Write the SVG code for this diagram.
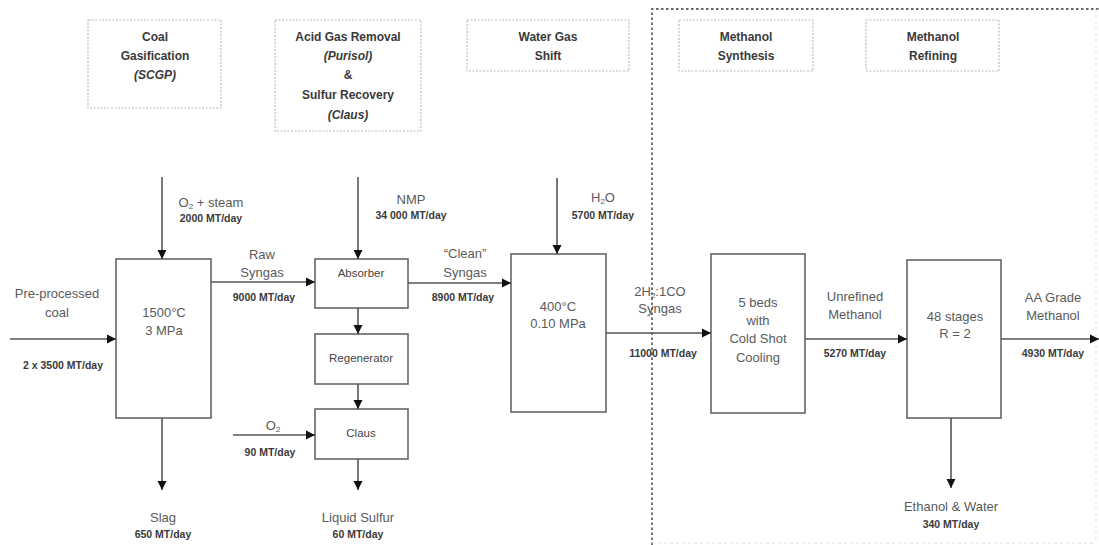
<svg xmlns="http://www.w3.org/2000/svg" width="1099" height="545" viewBox="0 0 1099 545">
<style>
.hdr{fill:#fff;stroke:#bbb;stroke-width:1.2;stroke-dasharray:2 1.5}
.ht{font-family:"Liberation Sans",Arial,sans-serif;font-size:12px;font-weight:bold;fill:#3a3a3a;text-anchor:middle}
.hi{font-style:italic}
.box{fill:#fff;stroke:#666;stroke-width:1.6}
.t{font-family:"Liberation Sans",Arial,sans-serif;font-size:13px;fill:#5a5a5a;text-anchor:middle}
.ts{font-family:"Liberation Sans",Arial,sans-serif;font-size:11.5px;fill:#444;text-anchor:middle}
.f{font-family:"Liberation Sans",Arial,sans-serif;font-size:10.5px;font-weight:bold;fill:#3a3a3a;text-anchor:middle}
.c{stroke:#555;stroke-width:1.6;fill:none;marker-end:url(#ah)}
.dash{fill:none;stroke:#666;stroke-width:1.8;stroke-dasharray:2.5 2.5}
</style>
<defs>
<marker id="ah" markerUnits="userSpaceOnUse" markerWidth="10" markerHeight="10" refX="9" refY="5" orient="auto">
<path d="M0,0.5 L9,5 L0,9.5 Z" fill="#111"/>
</marker>
</defs>
<rect width="1099" height="545" fill="#fff"/>

<g id="region">
<path class="dash" d="M652,545 L652,9 L1099,9"/>
<path d="M1096,9 L1096,543 M652,543 L1096,543" fill="none" stroke="#ddd" stroke-width="1" stroke-dasharray="3 3"/>
</g>

<g id="hdr-gasification">
<rect class="hdr" x="88" y="20" width="133" height="88"/>
<text class="ht" x="155" y="41">Coal</text>
<text class="ht" x="155" y="60">Gasification</text>
<text class="ht hi" x="155" y="79">(SCGP)</text>
</g>
<g id="hdr-agr">
<rect class="hdr" x="275" y="20" width="146" height="111"/>
<text class="ht" x="348" y="41">Acid Gas Removal</text>
<text class="ht hi" x="348" y="60">(Purisol)</text>
<text class="ht" x="348" y="79">&amp;</text>
<text class="ht" x="348" y="99">Sulfur Recovery</text>
<text class="ht hi" x="348" y="119">(Claus)</text>
</g>
<g id="hdr-wgs">
<rect class="hdr" x="467" y="20" width="162" height="51"/>
<text class="ht" x="548" y="41">Water Gas</text>
<text class="ht" x="548" y="60">Shift</text>
</g>
<g id="hdr-synthesis">
<rect class="hdr" x="679" y="20" width="134" height="51"/>
<text class="ht" x="746" y="41">Methanol</text>
<text class="ht" x="746" y="60">Synthesis</text>
</g>
<g id="hdr-refining">
<rect class="hdr" x="866" y="20" width="133" height="51"/>
<text class="ht" x="933" y="41">Methanol</text>
<text class="ht" x="933" y="60">Refining</text>
</g>

<g id="gasifier">
<rect class="box" x="116" y="259" width="95" height="159"/>
<text class="t" x="164" y="317">1500°C</text>
<text class="t" x="164" y="335">3 MPa</text>
</g>
<g id="absorber">
<rect class="box" x="315" y="259" width="93" height="49"/>
<text class="ts" x="361" y="277">Absorber</text>
</g>
<g id="regenerator">
<rect class="box" x="315" y="334" width="93" height="50"/>
<text class="ts" x="361" y="362">Regenerator</text>
</g>
<g id="claus">
<rect class="box" x="315" y="409" width="93" height="50"/>
<text class="ts" x="361" y="437">Claus</text>
</g>
<g id="wgs">
<rect class="box" x="511" y="254" width="95" height="158"/>
<text class="t" x="558" y="311">400°C</text>
<text class="t" x="558" y="328">0.10 MPa</text>
</g>
<g id="synthesis">
<rect class="box" x="711" y="254" width="94" height="159"/>
<text class="t" x="758" y="307">5 beds</text>
<text class="t" x="758" y="325">with</text>
<text class="t" x="758" y="343">Cold Shot</text>
<text class="t" x="758" y="362">Cooling</text>
</g>
<g id="refining">
<rect class="box" x="907" y="260" width="94" height="158"/>
<text class="t" x="955" y="321">48 stages</text>
<text class="t" x="955" y="338">R = 2</text>
</g>

<g id="connectors">
<path class="c" d="M162,177 L162,259"/>
<path class="c" d="M10,339 L116,339"/>
<path class="c" d="M211,282 L315,282"/>
<path class="c" d="M358,177 L358,259"/>
<path class="c" d="M358,308 L358,334"/>
<path class="c" d="M358,384 L358,409"/>
<path class="c" d="M233,435 L315,435"/>
<path class="c" d="M358,459 L358,490"/>
<path class="c" d="M162,418 L162,490"/>
<path class="c" d="M408,283 L511,283"/>
<path class="c" d="M557,178 L557,254"/>
<path class="c" d="M606,333 L711,333"/>
<path class="c" d="M805,339 L907,339"/>
<path class="c" d="M1001,339 L1099,339"/>
<path class="c" d="M951,418 L951,488"/>
</g>

<g id="labels">
<text class="t" x="211" y="207">O<tspan font-size="8" dy="2">2</tspan><tspan dy="-2"> + steam</tspan></text>
<text class="f" x="211" y="222">2000 MT/day</text>
<text class="t" x="57" y="298">Pre-processed</text>
<text class="t" x="57" y="317">coal</text>
<text class="f" x="63" y="369">2 x 3500 MT/day</text>
<text class="t" x="262" y="259">Raw</text>
<text class="t" x="262" y="277">Syngas</text>
<text class="f" x="264" y="301">9000 MT/day</text>
<text class="t" x="411" y="204">NMP</text>
<text class="f" x="411" y="219">34 000 MT/day</text>
<text class="t" x="273" y="430">O<tspan font-size="8" dy="2">2</tspan></text>
<text class="f" x="270" y="456">90 MT/day</text>
<text class="t" x="163" y="522">Slag</text>
<text class="f" x="163" y="538">650 MT/day</text>
<text class="t" x="358" y="522">Liquid Sulfur</text>
<text class="f" x="358" y="538">60 MT/day</text>
<text class="t" x="465" y="258">“Clean”</text>
<text class="t" x="465" y="277">Syngas</text>
<text class="f" x="463" y="301">8900 MT/day</text>
<text class="t" x="603" y="202">H<tspan font-size="8" dy="2">2</tspan><tspan dy="-2">O</tspan></text>
<text class="f" x="603" y="219">5700 MT/day</text>
<text class="t" x="660" y="296">2H<tspan font-size="8" dy="2">2</tspan><tspan dy="-2">:1CO</tspan></text>
<text class="t" x="660" y="313">Syngas</text>
<text class="f" x="663" y="357">11000 MT/day</text>
<text class="t" x="855" y="301">Unrefined</text>
<text class="t" x="855" y="319">Methanol</text>
<text class="f" x="855" y="357">5270 MT/day</text>
<text class="t" x="1053" y="302">AA Grade</text>
<text class="t" x="1053" y="320">Methanol</text>
<text class="f" x="1053" y="357">4930 MT/day</text>
<text class="t" x="951" y="511">Ethanol &amp; Water</text>
<text class="f" x="951" y="528">340 MT/day</text>
</g>
</svg>
